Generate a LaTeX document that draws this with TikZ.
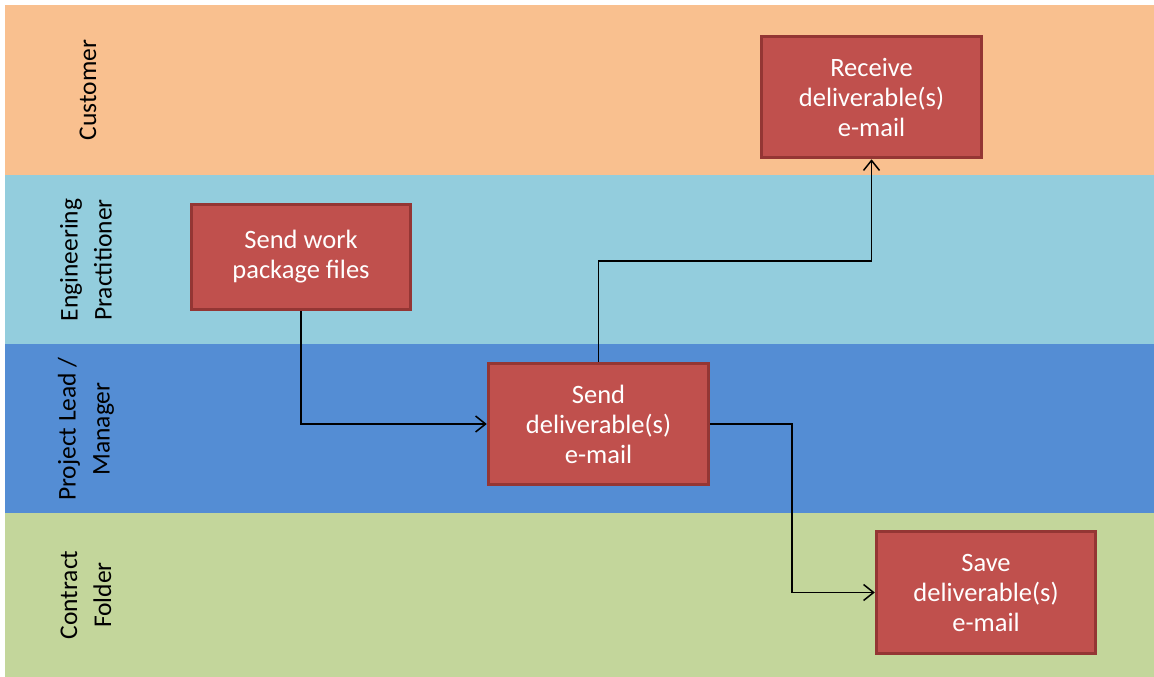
\documentclass[tikz,border=0pt]{standalone}
\usepackage{fontspec}
\setmainfont{Carlito}
\usetikzlibrary{arrows.meta}
\definecolor{lanecust}{HTML}{F9C08F}
\definecolor{laneeng}{HTML}{93CDDD}
\definecolor{lanepm}{HTML}{548DD4}
\definecolor{lanecf}{HTML}{C3D69B}
\definecolor{boxfill}{HTML}{C0504D}
\definecolor{boxedge}{HTML}{943634}
\tikzset{
  lane/.style={draw=none},
  lanelabel/.style={rotate=90, align=center, font=\fontsize{25.5}{34}\selectfont, text=black},
  procbox/.style={rectangle, fill=boxfill, draw=boxedge, line width=3.5pt, align=center,
     text=white, font=\fontsize{26.5}{30}\selectfont, inner sep=0pt},
  flow/.style={draw=black, line width=1.5pt, -{Straight Barb[length=10pt,width=16pt,line width=1.5pt]}}
}
\begin{document}
\begin{tikzpicture}[x=1pt,y=-1pt]
\useasboundingbox (0,0) rectangle (1154,677);
\fill[white] (0,0) rectangle (1154,677);
% lanes
\fill[lanecust] (5,5) rectangle (1154,175);
\fill[laneeng] (5,175) rectangle (1154,344);
\fill[lanepm] (5,344) rectangle (1154,513);
\fill[lanecf] (5,513) rectangle (1154,677);
% lane labels
\node[lanelabel] (l1) at (88,90) {Customer};
\node[lanelabel] (l2) at (86,260) {Engineering\\Practitioner};
\node[lanelabel] (l3) at (86,429) {Project Lead /\\Manager};
\node[lanelabel] (l4) at (86,595) {Contract\\Folder};
% boxes
\node[procbox, minimum width=219pt, minimum height=105pt] (a) at (301,257) {Send work\\package files};
\node[procbox, minimum width=220pt, minimum height=121pt] (b) at (598.5,424) {Send\\deliverable(s)\\e-mail};
\node[procbox, minimum width=220pt, minimum height=121pt] (c) at (871.5,97) {Receive\\deliverable(s)\\e-mail};
\node[procbox, minimum width=219pt, minimum height=122pt] (d) at (986,592.5) {Save\\deliverable(s)\\e-mail};
% bend points
\coordinate (k1) at (700,261);
\coordinate (k2) at (792,500);
% connectors
\draw[flow] (a.south) |- (b.west);
\draw[flow] (b.north) |- (k1) -| (c.south);
\draw[flow] (b.east) -| (k2) |- (d.west);
\end{tikzpicture}
\end{document}
